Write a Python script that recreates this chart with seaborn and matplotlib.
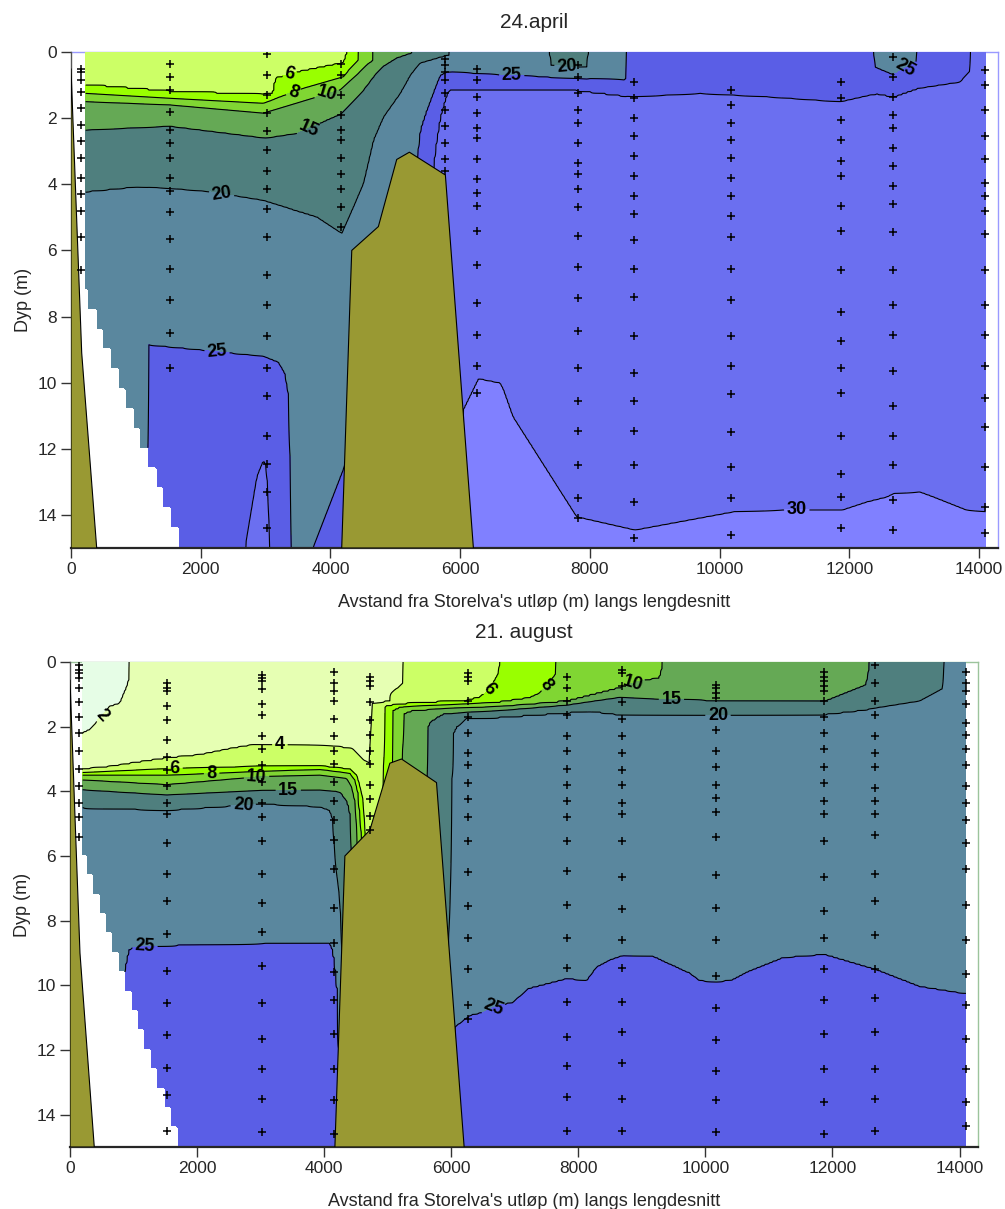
import numpy as np
import pandas as pd
import matplotlib
matplotlib.use("Agg")
import matplotlib.pyplot as plt
import seaborn as sns

# salinity classes and the fill colour of each class
class_edges = [0, 2, 4, 6, 8, 10, 15, 20, 25, 27.5, 30, 35]
class_colors = ['#e6fde6', '#e6ffb3', '#ccff66', '#99ff00', '#80d633', '#65a955',
                '#4f7f7e', '#5a879e', '#5a5ee6', '#6b6ff0', '#8080ff']

# ---------------- 24 april ----------------
# depth (m) of each isohaline along the section: (distance m, depth m)
# depth -3 = isohaline above the surface, 20 = below the bottom
apr_s6 = [(216, 1.0), (1526, 1.2), (2965, 1.3), (3120, 1.25), (3160, 0.8), (3531, 0.6),
          (4199, 0.34), (4250, 0.14), (4275, -3), (14100, -3)]
apr_s8 = [(216, 1.25), (1526, 1.4), (2965, 1.55), (3582, 1.1), (4199, 0.75), (4430, 0.24),
          (4465, -3), (14100, -3)]
apr_s10 = [(216, 1.5), (1526, 1.6), (2965, 1.85), (4147, 1.15), (4661, 0.24), (4690, -3),
           (14100, -3)]
apr_s15 = [(216, 2.36), (1526, 2.24), (3000, 2.6), (3500, 2.45), (4173, 1.85), (4507, 1.15),
           (4661, 0.75), (4815, 0.44), (5021, 0.19), (5253, 0.04), (5290, -3), (14100, -3)]
apr_s20 = [(216, 4.22), (1013, 4.07), (1526, 4.12), (2143, 4.22), (2965, 4.48), (3788, 4.98),
           (4173, 5.48), (4353, 4.68), (4507, 3.97), (4661, 2.66), (4815, 1.96), (5072, 1.25),
           (5227, 0.7), (5381, 0.34), (5843, 0.09), (5880, -3), (7330, -3), (7380, 0.4),
           (7700, 0.5), (7970, 0.45), (8020, -3), (14100, -3)]
apr_s25 = [(216, 20), (1170, 14), (1195, 8.85), (1990, 9.0), (2965, 9.2), (3197, 9.37),
           (3300, 9.72), (3366, 10.5), (3392, 15), (3420, 17), (3700, 15.3), (3730, 15),
           (4200, 12.6), (5330, 3.3), (5381, 2.36), (5484, 1.75), (5638, 0.95), (5689, 0.7),
           (5792, 0.6), (6614, 0.7), (7800, 0.8), (8550, 0.85), (8590, -3), (12330, -3),
           (12380, 0.45), (12680, 0.7), (13040, 0.3), (13100, -3), (14100, -3)]
apr_s275 = [(216, 20), (2650, 20), (2683, 15), (2863, 12.84), (2965, 12.34), (3017, 12.54),
            (3068, 15), (3100, 20), (5000, 20), (5586, 3.52), (5612, 2.96), (5689, 1.96),
            (5792, 1.25), (5843, 1.15), (6614, 1.15), (7797, 1.15), (8665, 1.35), (9698, 1.25),
            (10726, 1.35), (11856, 1.5), (12422, 1.25), (12679, 1.35), (13039, 1.1),
            (13706, 0.9), (13861, 0.55), (13885, -3), (14100, -3)]
apr_s30 = [(216, 20), (5900, 20), (6049, 10.8), (6280, 9.87), (6614, 10.0), (6665, 10.17),
           (6819, 11.03), (7797, 14.05), (8696, 14.45), (10212, 13.9), (10983, 13.85),
           (11882, 13.85), (12268, 13.6), (12576, 13.45), (12679, 13.35), (13090, 13.3),
           (13296, 13.45), (13810, 13.85), (14100, 13.9)]
apr_surface_sal, apr_bottom_sal = 5.0, 32.0

apr_blank_x = [226, 226, 1770]
apr_blank_d = [0, 7.0, 15]
apr_bank_x = [0, 165, 396, 0]
apr_bank_d = [0.5, 9.1, 15, 15]
apr_sill_x = [4173, 4301, 4328, 4738, 5021, 5216, 5771, 6203]
apr_sill_d = [15, 7.5, 6.0, 5.28, 3.25, 3.03, 3.72, 15]

apr_st_x = [150, 1526, 3022, 4163, 5766, 6260, 7817, 8680, 10176, 11872, 12674, 14092]
apr_st_d = [
    [0.5, 0.6, 0.85, 1.2, 1.7, 2.2, 2.7, 3.2, 3.8, 4.3, 4.8, 5.6, 6.6],
    [0.35, 0.75, 1.15, 1.8, 2.35, 2.75, 3.2, 3.8, 4.2, 4.85, 5.65, 6.55, 7.5, 8.5, 9.55],
    [0.05, 0.7, 1.3, 1.85, 2.4, 2.95, 3.6, 4.15, 4.75, 5.6, 6.75, 7.65, 8.6, 9.55, 10.4,
     11.6, 12.45, 13.3, 14.4],
    [0.35, 0.7, 1.3, 1.9, 2.35, 2.65, 3.2, 3.7, 4.15, 4.7, 5.3],
    [0.2, 0.4, 0.6, 0.85, 1.25, 1.75, 2.25, 2.75, 3.25, 3.6],
    [0.5, 0.85, 1.35, 1.85, 2.3, 2.6, 3.25, 3.85, 4.25, 4.65, 5.4, 6.45, 7.6, 8.55, 9.5, 10.3],
    [0.4, 0.75, 1.25, 1.75, 2.15, 2.75, 3.35, 3.7, 4.15, 4.7, 5.55, 6.5, 7.45, 8.45, 9.55,
     10.55, 11.45, 12.5, 13.5, 14.1],
    [0.9, 1.4, 2.0, 2.55, 3.15, 3.75, 4.35, 4.9, 5.7, 6.55, 7.4, 8.6, 9.7, 10.55, 11.45,
     12.5, 13.6, 14.7],
    [1.15, 1.6, 2.15, 2.65, 3.2, 3.8, 4.35, 4.95, 5.6, 6.55, 7.5, 8.6, 9.5, 10.35, 11.5,
     12.55, 13.5, 14.6],
    [0.9, 1.4, 2.05, 2.65, 3.3, 3.75, 4.65, 5.4, 6.6, 7.85, 8.75, 9.55, 10.3, 11.6, 12.75,
     13.45, 14.4],
    [0.15, 0.75, 1.35, 1.9, 2.3, 2.9, 3.45, 4.05, 4.6, 5.45, 6.6, 7.65, 8.55, 9.65, 10.7,
     11.6, 12.5, 13.55, 14.45],
    [0.55, 1.0, 1.75, 2.55, 3.25, 3.95, 4.35, 4.8, 5.5, 6.6, 7.65, 8.55, 9.5, 10.45, 11.35,
     12.55, 13.75, 14.55],
]

apr_labels = {6: [(3377, 0.7)], 8: [(3428, 1.21)], 10: [(3942, 1.27)], 15: [(3659, 2.31)],
              20: [(2323, 4.27), (7642, 0.46)], 25: [(2246, 9.1), (6794, 0.72), (12884, 0.55)],
              30: [(11188, 13.85)]}

# ---------------- 21. august ----------------
aug_s2 = [(200, 2.2), (315, 2.1), (472, 1.74), (629, 1.38), (787, 1.28), (918, 0.66),
          (944, 0.35), (962, -3), (14100, -3)]
aug_s4 = [(200, 3.32), (629, 3.24), (1521, 2.98), (2045, 2.88), (2569, 2.67), (2884, 2.57),
          (4142, 2.6), (4457, 2.7), (4614, 3.03), (4719, 3.13), (4746, 1.28), (5034, 1.23),
          (5060, 0.97), (5243, 0.66), (5254, 0.1), (5270, -3), (14100, -3)]
aug_s6 = [(200, 3.42), (1521, 3.3), (3020, 3.23), (3933, 3.22), (4405, 3.32), (4510, 3.5),
          (4562, 3.86), (4614, 4.27), (4640, 5.09), (4680, 7.0), (4900, 7.0), (4929, 3.9),
          (4945, 1.38), (5007, 1.33), (6240, 1.2), (6450, 1.1), (6607, 0.85), (6760, 0.3),
          (6790, -3), (14100, -3)]
aug_s8 = [(200, 3.5), (1521, 3.5), (3020, 3.38), (3933, 3.32), (4405, 3.44), (4483, 3.65),
          (4536, 4.06), (4562, 4.68), (4588, 5.4), (4620, 7.5), (5040, 7.5), (5070, 3.2),
          (5082, 1.48), (5191, 1.38), (6764, 1.25), (7236, 1.12), (7393, 0.97), (7656, 0.35),
          (7685, -3), (14100, -3)]
aug_s10 = [(200, 3.65), (1521, 3.8), (3020, 3.54), (3933, 3.5), (4352, 3.6), (4431, 3.86),
           (4483, 4.27), (4510, 5.09), (4530, 8.0), (5200, 8.0), (5230, 3.1), (5245, 1.6),
           (5400, 1.48), (6764, 1.38), (7813, 1.23), (8337, 0.97), (8652, 0.81), (8967, 0.61),
           (9281, 0.5), (9333, 0.1), (9350, -3), (14100, -3)]
aug_s15 = [(200, 3.95), (1521, 4.11), (3020, 3.97), (3933, 3.96), (4247, 4.01), (4352, 4.27),
           (4405, 4.58), (4431, 5.71), (4450, 9.0), (5580, 9.0), (5611, 3.7), (5625, 2.03),
           (5663, 1.85), (5873, 1.59), (6764, 1.5), (7813, 1.33), (8652, 1.09), (9229, 1.15),
           (10173, 1.21), (11877, 1.23), (12533, 0.71), (12585, 0.1), (12600, -3), (14100, -3)]
aug_s20 = [(200, 4.5), (1521, 4.58), (3020, 4.38), (3933, 4.47), (4090, 4.58), (4142, 4.89),
           (4169, 6.1), (4250, 7.4), (4300, 10.0), (5930, 10.0), (6004, 6.1), (6012, 3.0),
           (6030, 2.2), (6083, 2.0), (6240, 1.74), (6764, 1.7), (8180, 1.51), (8600, 1.61),
           (10016, 1.64), (11877, 1.61), (12480, 1.48), (13371, 1.2), (13738, 0.81),
           (13752, 0.1), (13765, -3), (14100, -3)]
aug_s25 = [(200, 20), (700, 13), (850, 9.6), (918, 8.91), (996, 8.81), (1364, 8.78),
           (2045, 8.72), (4090, 8.68), (4142, 8.91), (4195, 9.73), (4221, 10.5), (4240, 13),
           (4280, 20), (5980, 20), (6056, 11.28), (6292, 10.92), (6502, 10.82), (6764, 10.6),
           (6974, 10.51), (7209, 10.09), (7813, 9.78), (8128, 9.84), (8285, 9.42), (8495, 9.2),
           (8704, 9.06), (9176, 9.09), (9753, 9.61), (9910, 9.84), (10172, 9.89),
           (10434, 9.81), (10645, 9.58), (11221, 9.13), (11877, 9.03), (12690, 9.5),
           (13371, 10.02), (14100, 10.25)]
aug_surface_sal, aug_bottom_sal = 1.0, 27.0

aug_blank_x = [200, 200, 1780]
aug_blank_d = [0, 5.6, 15]
aug_bank_x = [0, 157, 382, 0]
aug_bank_d = [0.55, 9.0, 15, 15]
aug_sill_x = [4169, 4326, 4719, 5034, 5217, 5768, 6203]
aug_sill_d = [15, 6.0, 5.2, 3.13, 3.0, 3.73, 15]

aug_st_x = [142, 1531, 3025, 4158, 4719, 6266, 7823, 8688, 10167, 11866, 12674, 14095]
aug_st_d = [
    [0.1, 0.25, 0.35, 0.5, 0.8, 1.25, 1.7, 2.2, 2.75, 3.3, 3.85, 4.35, 4.8, 5.4],
    [0.65, 0.8, 0.9, 1.35, 1.8, 2.4, 2.95, 3.35, 3.85, 4.35, 4.7, 5.6, 6.55, 7.4, 8.4, 9.55,
     10.55, 11.55, 12.55, 13.4, 14.5],
    [0.4, 0.5, 0.6, 0.85, 1.3, 1.65, 2.3, 2.7, 3.2, 3.7, 4.35, 4.8, 5.55, 6.55, 7.45, 8.35,
     9.4, 10.55, 11.65, 12.6, 13.5, 14.55],
    [0.3, 0.65, 0.9, 1.2, 1.75, 2.3, 2.75, 3.15, 3.7, 4.3, 4.9, 5.5, 6.4, 7.6, 8.7, 9.6,
     10.45, 11.5, 12.6, 13.55, 14.6],
    [0.45, 0.6, 0.75, 1.25, 1.8, 2.25, 2.75, 3.15, 3.8, 4.25, 4.75, 5.2],
    [0.35, 0.47, 0.6, 1.2, 1.7, 2.2, 2.8, 3.2, 3.75, 4.25, 4.8, 5.55, 6.5, 7.55, 8.55, 9.5,
     10.6, 11.05],
    [0.45, 0.8, 1.2, 1.65, 2.3, 2.75, 3.3, 3.8, 4.3, 4.8, 5.55, 6.45, 7.5, 8.55, 9.45, 10.5,
     11.6, 12.5, 13.45, 14.5],
    [0.25, 0.35, 0.75, 1.25, 1.75, 2.3, 2.8, 3.35, 3.8, 4.35, 4.7, 5.55, 6.65, 7.65, 8.6,
     9.45, 10.5, 11.45, 12.4, 13.5, 14.5],
    [0.7, 0.8, 0.95, 1.1, 2.1, 2.75, 3.25, 3.8, 4.2, 4.65, 5.4, 6.6, 7.6, 8.6, 9.7, 10.7,
     11.7, 12.65, 13.55, 14.55],
    [0.3, 0.45, 0.6, 0.75, 0.9, 1.2, 1.7, 2.2, 2.7, 3.25, 3.75, 4.3, 4.7, 5.55, 6.65, 7.7,
     8.55, 9.5, 10.45, 11.5, 12.6, 13.6, 14.6],
    [0.1, 0.65, 1.2, 1.65, 2.3, 2.8, 3.25, 3.9, 4.3, 4.7, 5.35, 6.55, 7.4, 8.45, 9.5, 10.4,
     11.45, 12.6, 13.5, 14.5],
    [0.3, 0.65, 0.9, 1.3, 1.9, 2.25, 2.7, 3.2, 3.85, 4.35, 4.9, 5.6, 6.4, 7.5, 8.6, 9.65,
     10.6, 11.65, 12.6, 13.6, 14.35],
]

aug_labels = {2: [(498, 1.65)], 4: [(3303, 2.6)], 6: [(1652, 3.3), (6607, 0.85)],
              8: [(2229, 3.45), (7499, 0.7)], 10: [(2937, 3.58), (8861, 0.66)],
              15: [(3435, 3.97), (9465, 1.17)], 20: [(2727, 4.42), (10198, 1.63)],
              25: [(1180, 8.8), (6659, 10.7)]}


def salinity_field(isolines, s_top, s_bot, xg, zg):
    levels = sorted(isolines)
    depths = np.array([np.interp(xg, *zip(*isolines[lev])) for lev in levels])
    for k in range(1, len(levels)):
        depths[k] = np.maximum(depths[k], depths[k - 1] + 0.01)
    sal = np.empty((zg.size, xg.size))
    for j in range(xg.size):
        sal[:, j] = np.interp(zg, np.r_[-6, depths[:, j], 40], np.r_[s_top, levels, s_bot])
    return sal


def draw_panel(ax, title, isolines, s_top, s_bot, blank_x, blank_d, labels,
               bank_x, bank_d, sill_x, sill_d, st_x, st_d, frame_color):
    xg = np.linspace(blank_x[0], 14100, 556)
    zg = np.linspace(0, 15, 301)
    sal = salinity_field(isolines, s_top, s_bot, xg, zg)
    X, Z = np.meshgrid(xg, zg)
    # Surfer-style blanking: stepped edge left of the data
    edge = np.interp(np.floor(Z / 0.6) * 0.6, blank_d, blank_x)
    sal = np.ma.masked_where(X < edge - 1e-6, sal)

    ax.contourf(xg, zg, sal, levels=class_edges, colors=class_colors, zorder=1)
    # one contour set per isohaline so each label lands on its own line
    for lev in sorted(isolines):
        cs = ax.contour(xg, zg, sal, levels=[lev], colors='black', linewidths=0.8, zorder=2)
        if lev in labels:
            with plt.rc_context({'font.weight': 'bold'}):
                cs.clabel(manual=labels[lev], inline=True, inline_spacing=3,
                          fontsize=13, fmt='%g', colors='black')

    ax.fill(bank_x, bank_d, color='#999933', ec='black', lw=0.8, zorder=3)
    ax.fill(sill_x, sill_d, color='#999933', ec='black', lw=0.8, zorder=3)

    st = pd.DataFrame({'x': np.repeat(st_x, [len(d) for d in st_d]),
                       'depth': np.concatenate(st_d)})
    sns.scatterplot(data=st, x='x', y='depth', marker='+', color='black', s=26,
                    linewidth=1.1, ax=ax, zorder=5, legend=False)

    ax.set_xlim(0, 14290)
    ax.set_ylim(15, 0)
    ax.set_xticks(range(0, 14001, 2000))
    ax.set_yticks(range(0, 15, 2))
    ax.tick_params(direction='out', length=7, width=1, labelsize=12.5, pad=3,
                   color='#333333')
    ax.set_title(title, fontsize=15, pad=17)
    ax.set_xlabel("Avstand fra Storelva's utløp (m) langs lengdesnitt", fontsize=13,
                  labelpad=12)
    ax.set_ylabel('Dyp (m)', fontsize=13, labelpad=4)
    for side in ['top', 'right']:
        ax.spines[side].set_color(frame_color)
        ax.spines[side].set_linewidth(1)
    ax.spines['top'].set_zorder(0.5)
    ax.spines['bottom'].set_linewidth(1.6)
    ax.spines['left'].set_linewidth(1)
    ax.spines['left'].set_color('#555555')
    ax.set_facecolor('white')


sns.set_style("ticks")
plt.rcParams['font.family'] = ['Liberation Sans', 'DejaVu Sans']

fig = plt.figure(figsize=(10.05, 12.09), dpi=100)
ax1 = fig.add_axes([0.07065, 0.54673, 0.92239, 0.41026])
ax2 = fig.add_axes([0.06965, 0.05128, 0.90348, 0.40116])

apr_iso = {6: apr_s6, 8: apr_s8, 10: apr_s10, 15: apr_s15, 20: apr_s20, 25: apr_s25,
           27.5: apr_s275, 30: apr_s30}
aug_iso = {2: aug_s2, 4: aug_s4, 6: aug_s6, 8: aug_s8, 10: aug_s10, 15: aug_s15,
           20: aug_s20, 25: aug_s25}

draw_panel(ax1, '24.april', apr_iso, apr_surface_sal, apr_bottom_sal, apr_blank_x,
           apr_blank_d, apr_labels, apr_bank_x, apr_bank_d, apr_sill_x, apr_sill_d,
           apr_st_x, apr_st_d, '#9a9aff')
draw_panel(ax2, '21. august', aug_iso, aug_surface_sal, aug_bottom_sal, aug_blank_x,
           aug_blank_d, aug_labels, aug_bank_x, aug_bank_d, aug_sill_x, aug_sill_d,
           aug_st_x, aug_st_d, '#9cc49c')

fig.savefig('out.png', dpi=100)
